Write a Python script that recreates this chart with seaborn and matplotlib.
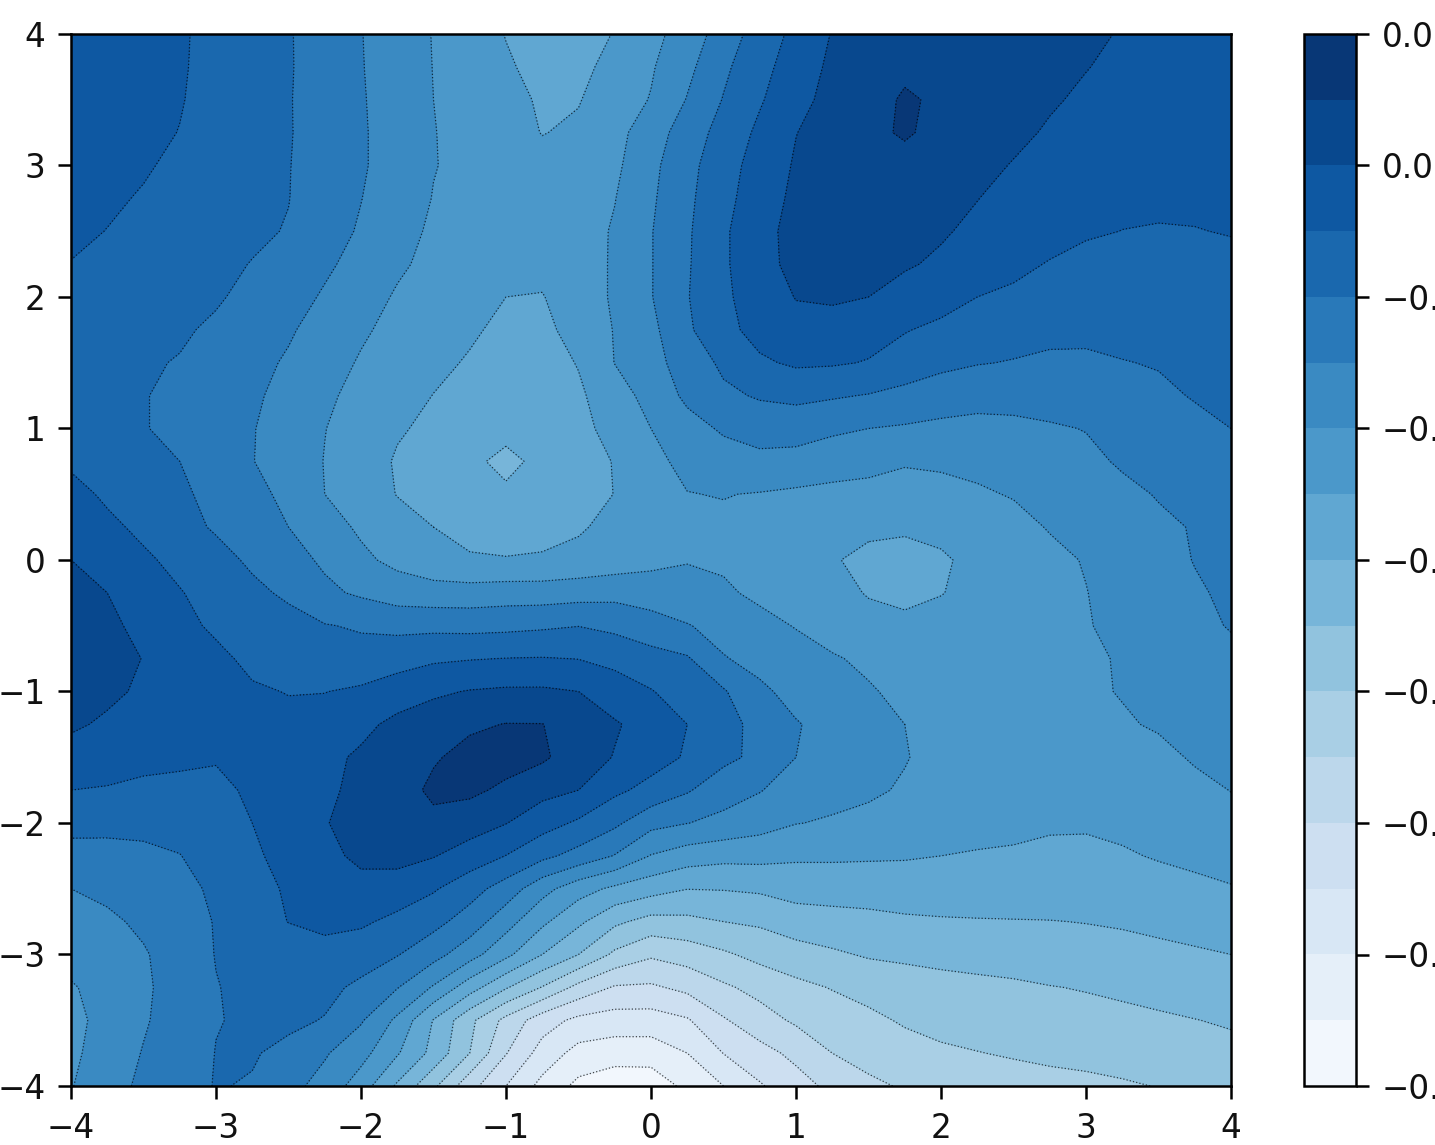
import numpy as np
import matplotlib
matplotlib.use("Agg")
import matplotlib.pyplot as plt
from matplotlib.ticker import FuncFormatter
import seaborn as sns

sns.set_style("ticks")
plt.rcParams['font.family'] = ['DejaVu Sans']

x_ticks = [-4, -3, -2, -1, 0, 1, 2, 3, 4]
y_ticks = [-4, -3, -2, -1, 0, 1, 2, 3, 4]
grid_x = [-4, -3.75, -3.5, -3.25, -3, -2.75, -2.5, -2.25, -2, -1.75, -1.5, -1.25, -1, -0.75, -0.5, -0.25,
          0, 0.25, 0.5, 0.75, 1, 1.25, 1.5, 1.75, 2, 2.25, 2.5, 2.75, 3, 3.25, 3.5, 3.75, 4]
grid_y = [4, 3.75, 3.5, 3.25, 3, 2.75, 2.5, 2.25, 2, 1.75, 1.5, 1.25, 1, 0.75, 0.5, 0.25,
          0, -0.25, -0.5, -0.75, -1, -1.25, -1.5, -1.75, -2, -2.25, -2.5, -2.75, -3, -3.25, -3.5, -3.75, -4]
levels = [-0.35, -0.325, -0.3, -0.275, -0.25, -0.225, -0.2, -0.175, -0.15, -0.125,
          -0.1, -0.075, -0.05, -0.025, 0.0, 0.025, 0.05]
cbar_ticks = [-0.35, -0.3, -0.25, -0.2, -0.15, -0.1, -0.05, 0.0, 0.05]

bands = np.array([
 [13.9,13.7,13.45,13.1,12.75,12.4,12.07,11.55,11.03,10.5,9.96,9.45,8.97,8.6,8.55,9.05,9.7,10.45,11.45,12.45,13.25,14.05,14.5,14.75,14.85,14.85,14.7,14.5,14.2,13.93,13.75,13.65,13.6],
 [13.85,13.65,13.4,13.08,12.75,12.4,12.07,11.6,11.05,10.5,9.98,9.55,9.1,8.75,8.75,9.3,9.9,10.75,11.8,12.7,13.45,14.2,14.55,14.8,14.92,14.9,14.65,14.4,14.03,13.8,13.65,13.55,13.55],
 [13.75,13.55,13.35,13.05,12.7,12.38,12.05,11.6,11.08,10.55,10.0,9.6,9.25,8.9,8.95,9.5,10.05,11.05,12.05,12.9,13.7,14.3,14.6,15.12,14.85,14.7,14.45,14.1,13.85,13.7,13.58,13.5,13.45],
 [13.6,13.4,13.2,12.98,12.65,12.35,12.05,11.65,11.1,10.6,10.03,9.7,9.4,8.97,9.15,9.7,10.5,11.5,12.35,13.2,13.98,14.4,14.75,15.12,14.7,14.4,14.2,13.9,13.65,13.5,13.42,13.38,13.35],
 [13.5,13.3,13.1,12.8,12.55,12.3,12.03,11.6,11.1,10.6,10.03,9.8,9.55,9.3,9.4,9.8,10.75,11.7,12.6,13.4,14.1,14.45,14.65,14.65,14.45,14.25,13.95,13.65,13.4,13.33,13.3,13.28,13.25],
 [13.35,13.15,12.92,12.65,12.45,12.2,12.02,11.5,11.02,10.45,9.97,9.75,9.55,9.45,9.5,9.97,10.85,11.8,12.7,13.55,14.2,14.55,14.65,14.55,14.3,14.02,13.7,13.45,13.3,13.18,13.12,13.12,13.12],
 [13.2,12.98,12.8,12.55,12.3,12.15,11.95,11.4,10.9,10.35,9.85,9.65,9.45,9.45,9.55,10.1,10.95,11.87,12.85,13.7,14.3,14.5,14.55,14.4,14.1,13.8,13.55,13.3,13.1,12.99,12.96,12.98,13.03],
 [12.97,12.8,12.6,12.38,12.2,11.97,11.65,11.15,10.7,10.15,9.75,9.5,9.2,9.3,9.6,10.1,10.95,11.9,12.85,13.7,14.25,14.4,14.3,14.1,13.85,13.5,13.2,12.95,12.75,12.65,12.6,12.6,12.85],
 [12.75,12.63,12.5,12.3,12.1,11.75,11.35,10.9,10.4,9.9,9.6,9.35,9.0,8.95,9.6,10.1,10.95,11.95,12.8,13.55,14.03,14.12,14.0,13.65,13.35,13.0,12.85,12.7,12.55,12.48,12.48,12.55,12.68],
 [12.55,12.4,12.25,12.12,11.85,11.5,11.1,10.65,10.12,9.75,9.45,9.15,8.75,8.8,9.3,10.05,10.75,11.85,12.7,13.35,13.75,13.65,13.35,13.05,12.8,12.6,12.38,12.22,12.2,12.25,12.28,12.38,12.5],
 [12.35,12.22,12.1,11.95,11.6,11.25,10.9,10.35,9.92,9.6,9.25,8.9,8.65,8.6,9.05,10.02,10.7,11.4,12.2,12.85,13.15,13.1,12.95,12.6,12.25,12.05,11.95,11.85,11.85,11.97,12.05,12.2,12.35],
 [12.25,12.12,12.03,11.85,11.4,11.15,10.7,10.15,9.75,9.4,8.98,8.7,8.5,8.55,8.85,9.55,10.35,11.2,11.8,12.1,12.2,12.1,11.95,11.7,11.45,11.3,11.3,11.4,11.55,11.7,11.85,12.05,12.22],
 [12.2,12.15,12.05,11.75,11.45,11.05,10.55,10.02,9.6,9.1,8.8,8.55,8.35,8.5,8.75,9.3,10.0,10.65,11.12,11.4,11.5,11.2,11.0,10.9,10.8,10.75,10.8,10.9,11.03,11.3,11.55,11.8,12.0],
 [12.85,12.55,12.3,12.0,11.65,11.03,10.55,9.97,9.5,8.9,8.55,8.25,7.7,8.3,8.55,9.05,9.8,10.2,10.6,10.75,10.6,10.35,10.2,10.05,10.1,10.2,10.4,10.65,10.8,11.1,11.35,11.55,11.7],
 [13.3,12.85,12.55,12.15,11.75,11.3,10.75,10.0,9.5,8.97,8.5,8.3,8.2,8.4,8.6,9.02,9.5,9.98,10.03,9.95,9.85,9.8,9.8,9.78,9.8,9.9,10.05,10.3,10.55,10.8,11.05,11.25,11.4],
 [13.75,13.2,12.8,12.3,11.9,11.5,11.0,10.4,9.85,9.35,9.0,8.7,8.6,8.7,8.9,9.25,9.6,9.8,9.85,9.7,9.55,9.35,9.12,9.1,9.2,9.45,9.75,10.05,10.3,10.55,10.85,11.05,11.3],
 [14.0,13.45,13.15,12.75,12.3,11.85,11.35,10.85,10.2,9.75,9.35,9.1,9.05,9.1,9.25,9.45,9.7,9.95,9.85,9.5,9.3,9.05,8.85,8.75,8.9,9.2,9.5,9.8,10.05,10.4,10.7,11.03,11.2],
 [14.4,14.0,13.4,13.05,12.65,12.2,11.85,11.2,10.85,10.5,10.4,10.4,10.5,10.5,10.6,10.7,10.6,10.35,10.15,9.8,9.55,9.25,8.95,8.87,8.97,9.25,9.5,9.75,9.98,10.3,10.6,10.9,11.15],
 [14.75,14.2,13.75,13.25,12.85,12.6,12.3,12.05,11.9,11.75,11.75,11.7,11.75,11.85,11.98,11.75,11.35,11.05,10.7,10.3,9.95,9.55,9.25,9.12,9.3,9.5,9.7,9.85,9.95,10.2,10.5,10.8,11.05],
 [14.9,14.4,13.97,13.5,13.2,12.8,12.5,12.3,12.35,12.6,12.85,12.95,13.02,13.05,12.98,12.75,12.4,12.1,11.05,10.75,10.4,10.1,9.8,9.55,9.5,9.55,9.6,9.75,9.9,10.05,10.3,10.55,10.8],
 [14.7,14.2,13.85,13.55,13.35,13.1,12.97,12.98,13.15,13.5,13.85,14.05,14.15,14.15,14.0,13.45,13.05,12.55,12.1,11.15,10.75,10.45,10.1,9.75,9.6,9.5,9.55,9.65,9.85,10.05,10.25,10.45,10.6],
 [14.15,13.85,13.65,13.4,13.3,13.2,13.2,13.35,13.75,14.25,14.5,14.85,15.03,15.02,14.55,14.1,13.6,13.0,12.4,11.65,11.05,10.75,10.35,10.0,9.7,9.5,9.45,9.5,9.7,9.9,10.1,10.3,10.45],
 [13.6,13.45,13.2,13.15,13.05,13.3,13.5,13.75,14.15,14.5,14.9,15.3,15.4,15.15,14.5,13.95,13.4,12.9,12.25,11.75,11.0,10.7,10.4,10.05,9.7,9.45,9.4,9.4,9.5,9.6,9.75,10.1,10.3],
 [13.0,12.93,12.85,12.8,12.85,13.1,13.5,13.85,14.2,14.55,15.2,15.2,14.8,14.3,14.0,13.2,12.7,12.1,11.4,11.05,10.55,10.3,10.15,9.9,9.55,9.35,9.3,9.25,9.3,9.4,9.55,9.75,10.02],
 [12.3,12.25,12.25,12.4,12.7,13.0,13.45,13.95,14.35,14.6,14.75,14.45,14.03,13.4,12.85,12.2,11.3,11.02,10.75,10.4,10.03,9.9,9.75,9.55,9.4,9.3,9.2,9.13,9.1,9.15,9.3,9.5,9.7],
 [11.65,11.7,11.8,11.97,12.5,12.8,13.4,13.75,14.2,14.3,14.05,13.55,12.98,12.25,11.65,10.95,9.95,9.5,9.3,9.3,9.15,9.15,9.12,9.08,9.0,8.93,8.9,8.78,8.8,8.93,9.05,9.15,9.3],
 [11.0,11.25,11.55,11.75,12.15,12.55,13.15,13.5,13.7,13.55,13.1,12.4,11.55,10.35,9.4,8.8,8.4,8.02,8.05,8.15,8.4,8.4,8.4,8.5,8.57,8.6,8.62,8.62,8.65,8.68,8.75,8.85,8.95],
 [10.55,10.8,11.2,11.6,12.05,12.55,13.02,13.25,13.15,12.75,12.3,11.55,10.4,9.2,8.2,7.2,6.65,6.75,7.0,7.15,7.5,7.65,7.75,7.85,7.9,7.93,7.95,7.97,8.03,8.1,8.2,8.3,8.45],
 [10.4,10.55,10.9,11.5,12.03,12.25,12.5,12.65,12.45,12.05,11.35,10.4,9.25,8.0,7.0,5.8,5.15,5.45,5.85,6.3,6.6,6.85,7.1,7.2,7.3,7.38,7.42,7.5,7.55,7.68,7.8,7.9,8.0],
 [9.9,10.4,10.85,11.4,11.97,12.2,12.4,12.25,11.8,11.05,9.9,8.45,7.1,5.95,4.7,3.9,3.85,4.25,4.85,5.3,5.75,6.05,6.3,6.5,6.65,6.75,6.85,6.97,7.05,7.15,7.28,7.45,7.55],
 [9.7,10.35,10.9,11.45,11.97,12.1,12.2,11.95,11.1,9.8,7.95,6.25,4.7,3.45,2.75,2.55,2.55,2.9,3.9,4.6,5.15,5.5,5.8,6.1,6.3,6.45,6.55,6.65,6.72,6.8,6.88,6.98,7.1],
 [9.8,10.45,11.05,11.55,12.02,12.08,11.75,11.1,10.35,9.1,7.7,6.0,4.05,2.6,1.65,1.45,1.45,2.0,3.02,3.65,4.25,5.0,5.35,5.65,5.85,5.97,6.1,6.2,6.25,6.35,6.45,6.6,6.75],
 [9.95,10.6,11.2,11.6,12.05,11.93,11.3,10.65,9.5,7.85,6.2,4.35,3.0,1.7,0.75,0.35,0.4,1.25,2.0,2.9,3.6,4.25,4.8,5.1,5.3,5.45,5.55,5.7,5.8,5.9,6.03,6.2,6.35],
])
band_zero = -0.35
band_step = 0.025
Z = band_zero + band_step * bands

W, H = 1435, 1145
fig = plt.figure(figsize=(W / 100, H / 100), dpi=100)
ax = fig.add_axes([71 / W, 1 - 1086 / H, (1231 - 71) / W, (1086 - 34) / H])
cax = fig.add_axes([1304 / W, 1 - 1086 / H, (1356 - 1304) / W, (1086 - 34) / H])

cmap = sns.color_palette("Blues", as_cmap=True)
cf = ax.contourf(grid_x, grid_y, Z, levels=levels, cmap=cmap)
ax.contour(grid_x, grid_y, Z, levels=levels, colors='k', linewidths=0.9, linestyles=':', alpha=0.7)
ax.set_xlim(-4, 4)
ax.set_ylim(-4, 4)
ax.set_xticks(x_ticks)
ax.set_yticks(y_ticks)
ax.tick_params(labelsize=23.5, length=9.5, width=1.8, color='k', labelcolor='#111111', pad=9)
for s in ax.spines.values():
    s.set_linewidth(1.8)
    s.set_color('k')

minus_fmt = FuncFormatter(lambda v, _: f"{v:.2f}".replace("-", "\u2212"))
cb = fig.colorbar(cf, cax=cax, ticks=cbar_ticks, format=minus_fmt)
cb.ax.tick_params(labelsize=23.5, length=9.5, width=1.8, color='k', labelcolor='#111111', pad=9)
cb.outline.set_linewidth(1.8)
cb.outline.set_edgecolor('k')

fig.savefig("out.png", dpi=100, facecolor='white')
